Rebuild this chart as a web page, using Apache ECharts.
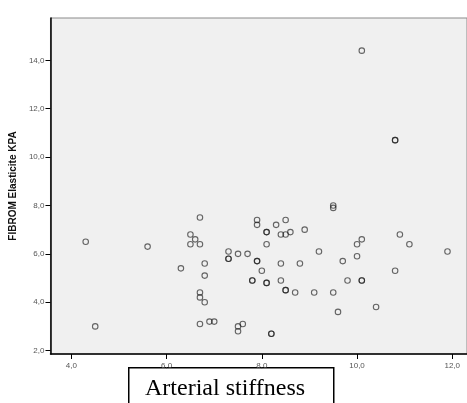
<!DOCTYPE html>
<html>
<head>
<meta charset="utf-8">
<script src="https://cdn.jsdelivr.net/npm/echarts@6/dist/echarts.min.js"></script>
<style>
  html, body { margin: 0; padding: 0; background: #fff; }
  #chart { width: 467px; height: 403px; }
</style>
</head>
<body>
<div id="chart"></div>
<script>
// arterial stiffness (x) vs FIBROM elasticite (y)
var stiffness = [4.3, 4.5, 5.6, 6.3, 6.5, 6.6, 6.5, 6.7, 6.7, 6.8, 6.8, 6.7, 6.7, 6.8, 6.7, 6.9, 7.0,
  7.5, 7.5, 7.6, 7.3, 7.3, 7.3, 7.5, 7.7, 7.9, 7.8, 7.9, 7.9, 8.1, 8.1, 8.3, 8.5, 8.4, 8.5, 8.6,
  8.1, 7.9, 8.0, 7.8, 8.1, 8.1, 8.4, 8.4, 8.5, 8.5, 8.9, 9.5, 9.5, 9.2, 10.1, 10.0, 10.0, 9.7,
  8.8, 9.8, 10.1, 10.1, 8.7, 9.1, 9.5, 10.9, 11.1, 11.9, 10.8, 9.6, 10.4, 8.2, 8.2, 10.1, 10.8, 10.8];
var elasticite = [6.5, 3.0, 6.3, 5.4, 6.8, 6.6, 6.4, 6.4, 7.5, 5.6, 5.1, 4.4, 4.2, 4.0, 3.1, 3.2, 3.2,
  3.0, 2.8, 3.1, 6.1, 5.8, 5.8, 6.0, 6.0, 5.7, 4.9, 7.4, 7.2, 6.9, 6.9, 7.2, 7.4, 6.8, 6.8, 6.9,
  6.4, 5.7, 5.3, 4.9, 4.8, 4.8, 5.6, 4.9, 4.5, 4.5, 7.0, 7.9, 8.0, 6.1, 6.6, 6.4, 5.9, 5.7,
  5.6, 4.9, 4.9, 4.9, 4.4, 4.4, 4.4, 6.8, 6.4, 6.1, 5.3, 3.6, 3.8, 2.7, 2.7, 14.4, 10.7, 10.7];
var xTicks = [4, 6, 8, 10, 12];
var yTicks = [2, 4, 6, 8, 10, 12, 14];

var points = stiffness.map(function (v, i) { return [v, elasticite[i]]; });

function comma(v) { return v.toFixed(1).replace('.', ','); }

var chart = echarts.init(document.getElementById('chart'));
chart.setOption({
  animation: false,
  backgroundColor: '#ffffff',
  grid: {
    left: 49, top: 18, right: -4, bottom: 49,
    show: true, backgroundColor: '#f0f0f0',
    borderColor: '#8a8a8a', borderWidth: 1
  },
  xAxis: {
    type: 'value', min: 3.56, max: 12.31,
    splitLine: { show: false },
    axisLine: { lineStyle: { color: '#000', width: 1.5 } },
    axisTick: { customValues: xTicks, length: 5, lineStyle: { color: '#000' } },
    axisLabel: { customValues: xTicks, formatter: comma, margin: 8,
      fontSize: 8, color: '#555', fontFamily: 'Liberation Sans' }
  },
  yAxis: {
    type: 'value', min: 1.86, max: 15.75,
    name: 'FIBROM Elasticite KPA', nameLocation: 'middle', nameGap: 27,
    nameTextStyle: { fontSize: 10, fontWeight: 'bold', color: '#111', fontFamily: 'Liberation Sans' },
    splitLine: { show: false },
    axisLine: { show: true, lineStyle: { color: '#000', width: 1.5 } },
    axisTick: { show: true, customValues: yTicks, length: 5, lineStyle: { color: '#000' } },
    axisLabel: { customValues: yTicks, formatter: comma, margin: 6,
      fontSize: 8, color: '#555', fontFamily: 'Liberation Sans' }
  },
  series: [{
    type: 'scatter',
    data: points,
    symbol: 'circle',
    symbolSize: 5.5,
    itemStyle: { color: 'rgba(0,0,0,0)', borderColor: 'rgba(20,20,20,0.8)', borderWidth: 1.1 }
  }],
  graphic: [{
    type: 'group', z: 100,
    children: [{
      type: 'rect', left: 128, top: 367,
      shape: { width: 205, height: 45 },
      style: { fill: '#fff', stroke: '#000', lineWidth: 1.5 }
    }, {
      type: 'text', left: 145, top: 377,
      style: { text: 'Arterial stiffness', fontSize: 24, fontFamily: 'Liberation Serif', fill: '#000' }
    }]
  }]
});
</script>
</body>
</html>
